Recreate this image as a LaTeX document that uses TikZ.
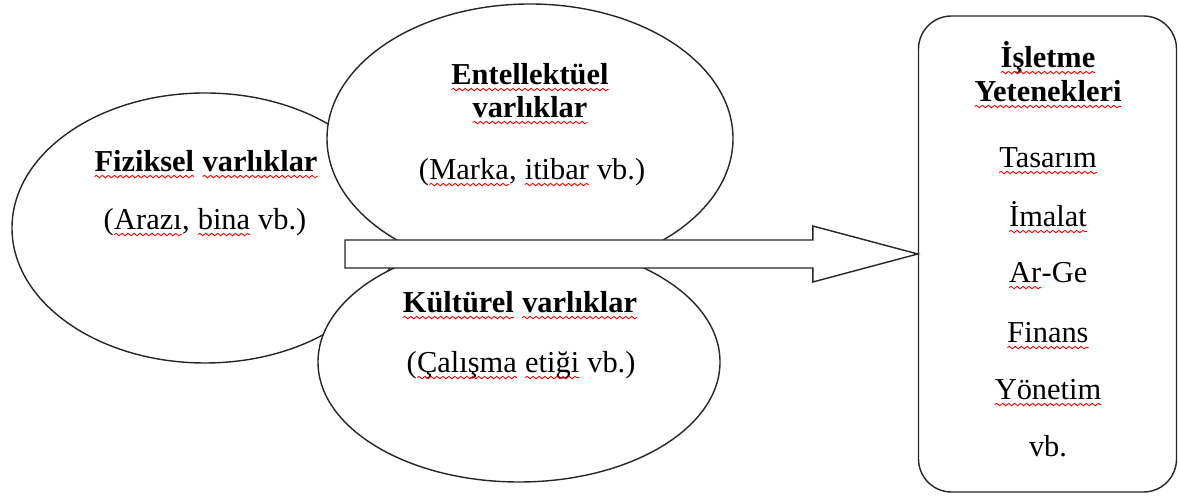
\documentclass[tikz,border=0pt]{standalone}
\usepackage{fontspec}
\setmainfont{Liberation Serif}
\usepackage{tikz}
\usetikzlibrary{shapes.geometric,calc,decorations.pathmorphing}
\usepackage{xcolor}
% red wavy underline under a word
\newcommand\spell[1]{\tikz[baseline=(w.base)]{\node[inner sep=0pt, outer sep=0pt, anchor=base] (w) {#1};
  \draw[red, line width=0.5pt, decorate, decoration={snake, amplitude=0.7pt, segment length=3.4pt}]
    ([yshift=-2.6pt]w.base west) -- ([yshift=-2.6pt]w.base east);}}
\tikzset{
  assetell/.style={ellipse, draw=black!85, fill=white, line width=0.8pt, inner sep=0pt},
  capbox/.style={rounded corners=0.66cm, draw=black!85, fill=white, line width=0.8pt,
                 inner sep=0pt, minimum width=5.16cm, minimum height=9.52cm},
  blockarr/.style={draw=black!85, fill=white, line width=0.8pt, line join=miter},
  boldlab/.style={font=\fontsize{17.3}{20}\selectfont\bfseries, anchor=base, inner sep=0pt},
  plainlab/.style={font=\fontsize{17.3}{20}\selectfont, anchor=base, inner sep=0pt},
}
\begin{document}
\begin{tikzpicture}[x=1cm,y=1cm]
\useasboundingbox (0,0) rectangle (23.56,9.94);
% the three asset groups
\node[assetell, minimum width=7.72cm, minimum height=5.40cm] (phys) at (4.10,5.38) {};
\node[assetell, minimum width=8.12cm, minimum height=5.38cm] (intel) at (10.60,7.17) {};
\node[assetell, minimum width=8.04cm, minimum height=4.80cm] (cult) at (10.38,2.70) {};
% capabilities box
\node[capbox] (caps) at (20.95,4.86) {};
\coordinate (tail) at (6.90,4.86);
\draw[blockarr] ($(tail)+(0,0.28)$) -- ($(caps.west)+(-2.10,0.28)$)
  -- ($(caps.west)+(-2.10,0.56)$) -- (caps.west) -- ($(caps.west)+(-2.10,-0.56)$)
  -- ($(caps.west)+(-2.10,-0.28)$) -- ($(tail)+(0,-0.28)$) -- cycle;
% labels
\node[boldlab] (physT) at (4.12,6.50) {\spell{Fiziksel} \spell{varlıklar}};
\node[plainlab] (physS) at (4.10,5.34) {(\spell{Arazı}, \spell{bina} vb.)};
\node[boldlab] (intelT) at (10.60,8.24) {\spell{Entellektüel}};
\node[boldlab] (intelU) at (10.60,7.58) {\spell{varlıklar}};
\node[plainlab] (intelS) at (10.64,6.34) {(\spell{Marka}, \spell{itibar} vb.)};
\node[boldlab] (cultT) at (10.40,3.68) {\spell{Kültürel} \spell{varlıklar}};
\node[plainlab] (cultS) at (10.42,2.48) {(\spell{Çalışma} \spell{etiği} vb.)};
\node[boldlab] (capsT) at (20.96,8.58) {\spell{İşletme}};
\node[boldlab] (capsU) at (20.96,7.90) {\spell{Yetenekleri}};
\node[plainlab] (cap1) at (20.96,6.58) {\spell{Tasarım}};
\node[plainlab] (cap2) at (20.96,5.40) {\spell{İmalat}};
\node[plainlab] (cap3) at (20.96,4.28) {\spell{Ar}-Ge};
\node[plainlab] (cap4) at (20.96,3.08) {\spell{Finans}};
\node[plainlab] (cap5) at (20.96,1.94) {\spell{Yönetim}};
\node[plainlab] (cap6) at (20.96,0.80) {vb.};
\end{tikzpicture}
\end{document}
